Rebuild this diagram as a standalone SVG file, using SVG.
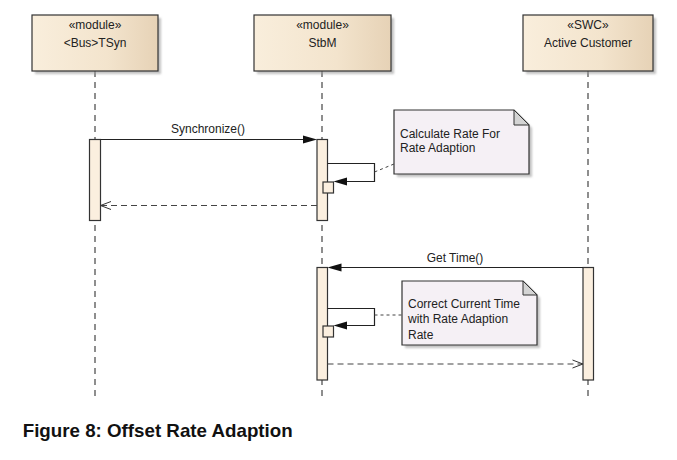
<svg xmlns="http://www.w3.org/2000/svg" width="677" height="460" viewBox="0 0 677 460">
<defs>
<linearGradient id="boxg" x1="0" y1="0" x2="1" y2="0">
<stop offset="0" stop-color="#f9eedc"/>
<stop offset="0.6" stop-color="#f3e4cd"/>
<stop offset="1" stop-color="#e6d2b6"/>
</linearGradient>
<filter id="sh" x="-10%" y="-10%" width="130%" height="140%">
<feGaussianBlur stdDeviation="1"/>
</filter>
<style>
.box{fill:url(#boxg);stroke:#333;stroke-width:1.2}
.shadow{fill:#9a9a9a;opacity:0.6;filter:url(#sh)}
.t{font-family:"Liberation Sans",Arial,sans-serif;font-size:12px;fill:#222}
.c{text-anchor:middle}
.life{stroke:#444;stroke-width:1.2;stroke-dasharray:6 5;fill:none}
.act{fill:#fbefdf;stroke:#333;stroke-width:1.2}
.msg{stroke:#222;stroke-width:1.2;fill:none}
.ret{stroke:#444;stroke-width:1.2;stroke-dasharray:6 4;fill:none}
.head{fill:#111;stroke:none}
.open{stroke:#333;stroke-width:1;fill:none}
.note{fill:#f5f0f5;stroke:#333;stroke-width:1.2}
.fold{fill:#d4d4d4;stroke:#333;stroke-width:1}
.dot{stroke:#444;stroke-width:1;stroke-dasharray:3 3;fill:none}
</style>
</defs>
<rect width="677" height="460" fill="#fff"/>

<g id="connectors">
<line class="life" x1="95" y1="71" x2="95" y2="399"/>
<line class="life" x1="322" y1="71" x2="322" y2="399"/>
<line class="life" x1="588" y1="71" x2="588" y2="399"/>
</g>

<g id="node-tsyn">
<rect class="shadow" x="35" y="18" width="126" height="56"/>
<rect class="box" x="32" y="15" width="126" height="56"/>
<text class="t c" x="95" y="28.5">«module»</text>
<text class="t c" x="95" y="47">&lt;Bus&gt;TSyn</text>
</g>
<g id="node-stbm">
<rect class="shadow" x="257" y="18" width="137" height="56"/>
<rect class="box" x="254" y="15" width="137" height="56"/>
<text class="t c" x="322.5" y="28.5">«module»</text>
<text class="t c" x="322.5" y="47">StbM</text>
</g>
<g id="node-customer">
<rect class="shadow" x="526" y="18" width="130" height="56"/>
<rect class="box" x="523" y="15" width="130" height="56"/>
<text class="t c" x="588" y="28.5">«SWC»</text>
<text class="t c" x="588" y="47">Active Customer</text>
</g>

<g id="activations">
<rect class="act" x="89.5" y="139.5" width="11" height="81"/>
<rect class="act" x="317" y="139.5" width="10.5" height="81"/>
<rect class="act" x="323" y="182" width="10.5" height="11"/>
<rect class="act" x="317" y="267.5" width="10.5" height="112.5"/>
<rect class="act" x="323" y="326" width="10.5" height="11"/>
<rect class="act" x="583" y="267.5" width="10.5" height="112.5"/>
</g>

<g id="note-calc">
<path class="shadow" d="M397 113 H517 L532 128 V177 H397 Z"/>
<path class="note" d="M394 110 H514 L529 125 V174 H394 Z"/>
<path class="fold" d="M514 110 V125 H529 Z"/>
<text class="t" x="400" y="138">Calculate Rate For</text>
<text class="t" x="400" y="152">Rate Adaption</text>
</g>
<g id="note-correct">
<path class="shadow" d="M405 284 H526 L540 298 V348 H405 Z"/>
<path class="note" d="M402 281 H523 L537 295 V345 H402 Z"/>
<path class="fold" d="M523 281 V295 H537 Z"/>
<text class="t" x="408" y="308">Correct Current Time</text>
<text class="t" x="408" y="323">with Rate Adaption</text>
<text class="t" x="408" y="338.5">Rate</text>
</g>

<g id="messages">
<line class="msg" x1="100.5" y1="139.5" x2="305" y2="139.5"/>
<polygon class="head" points="317,139.5 303,135.5 303,143.5"/>
<text class="t c" x="208" y="133">Synchronize()</text>

<polyline class="msg" points="327.5,163.5 374.5,163.5 374.5,181.5 345,181.5"/>
<polygon class="head" points="333.5,181.5 347,177.5 347,185.5"/>

<line class="ret" x1="317" y1="205.5" x2="101" y2="205.5"/>
<polyline class="open" points="111,201.5 100.5,205.5 111,209.5"/>

<line class="dot" x1="374.5" y1="172" x2="394" y2="164"/>

<line class="msg" x1="583" y1="267.5" x2="340" y2="267.5"/>
<polygon class="head" points="327.5,267.5 341.5,263.5 341.5,271.5"/>
<text class="t c" x="455" y="261.5">Get Time()</text>

<polyline class="msg" points="327.5,308.5 374.5,308.5 374.5,325.5 345,325.5"/>
<polygon class="head" points="333.5,325.5 347,321.5 347,329.5"/>

<line class="dot" x1="374.5" y1="315" x2="402" y2="315"/>

<line class="ret" x1="327.5" y1="364" x2="582" y2="364"/>
<polyline class="open" points="572.5,360 583,364 572.5,368"/>
</g>

<text x="22.7" y="436.7" font-family="'Liberation Sans',Arial,sans-serif" font-size="18.5" font-weight="bold" fill="#111" textLength="270" lengthAdjust="spacingAndGlyphs">Figure 8: Offset Rate Adaption</text>
</svg>
